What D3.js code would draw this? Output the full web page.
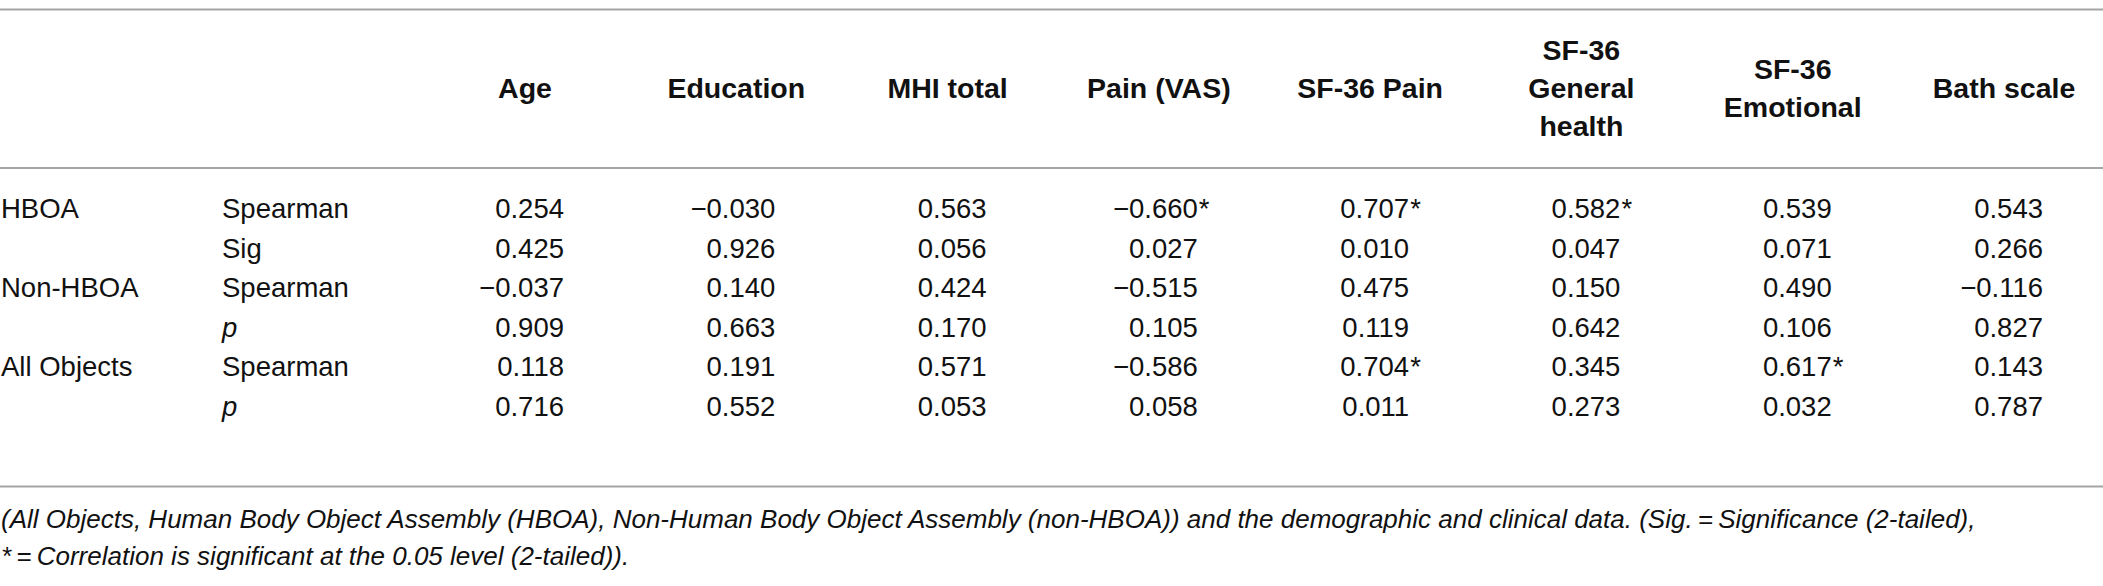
<!DOCTYPE html>
<html>
<head>
<meta charset="utf-8">
<script src="https://cdn.jsdelivr.net/npm/d3@7"></script>
<style>
  body { margin: 0; background: #fff; }
  text { font-family: "Liberation Sans", Arial, Helvetica, sans-serif; fill: #111; }
</style>
</head>
<body>
<div id="table-div"></div>
<script>
// table content
var columns = ["Age", "Education", "MHI total", "Pain (VAS)", "SF-36 Pain",
               "SF-36\nGeneral\nhealth", "SF-36\nEmotional", "Bath scale"]
var groups = ["HBOA", "", "Non-HBOA", "", "All Objects", ""]
var stats = ["Spearman", "Sig", "Spearman", "p", "Spearman", "p"]
var hboaRho   = ["0.254", "−0.030", "0.563", "−0.660*", "0.707*", "0.582*", "0.539", "0.543"]
var hboaSig   = ["0.425", "0.926", "0.056", "0.027", "0.010", "0.047", "0.071", "0.266"]
var nonRho    = ["−0.037", "0.140", "0.424", "−0.515", "0.475", "0.150", "0.490", "−0.116"]
var nonP      = ["0.909", "0.663", "0.170", "0.105", "0.119", "0.642", "0.106", "0.827"]
var allRho    = ["0.118", "0.191", "0.571", "−0.586", "0.704*", "0.345", "0.617*", "0.143"]
var allP      = ["0.716", "0.552", "0.053", "0.058", "0.011", "0.273", "0.032", "0.787"]
var footnote = [
  "(All Objects, Human Body Object Assembly (HBOA), Non-Human Body Object Assembly (non-HBOA)) and the demographic and clinical data. (Sig.\u2009=\u2009Significance (2-tailed),",
  "*\u2009=\u2009Correlation is significant at the 0.05 level (2-tailed))."
]

var rows = [hboaRho, hboaSig, nonRho, nonP, allRho, allP]

var width = 2103, height = 586

var svg = d3.select("#table-div")
  .append("svg")
  .attr("width", width)
  .attr("height", height)

var x = d3.scalePoint()
  .domain(columns)
  .range([525, 2004])

var y = d3.scalePoint()
  .domain(d3.range(rows.length))
  .range([218, 416])

var valueShift = 39   // numbers sit right of the header centre
var headLine = 38

// rules
var rules = [9.5, 168, 486.5]
svg.selectAll(".rule")
  .data(rules)
  .enter()
  .append("line")
    .attr("class", "rule")
    .attr("x1", 0)
    .attr("x2", width)
    .attr("y1", d => d)
    .attr("y2", d => d)
    .attr("stroke", "#a5a5a5")
    .attr("stroke-width", 2)

// header
var head = svg.append("g")
columns.forEach(function(c) {
  var parts = c.split("\n")
  parts.forEach(function(p, i) {
    head.append("text")
      .attr("x", x(c))
      .attr("y", 98 + (i - (parts.length - 1) / 2) * headLine)
      .attr("text-anchor", "middle")
      .style("font-weight", "bold")
      .style("font-size", "28.5px")
      .text(p)
  })
})

// row labels
var body = svg.append("g").style("font-size", "27.5px")
body.selectAll(".grp")
  .data(groups)
  .enter()
  .append("text")
    .attr("class", "grp")
    .attr("x", 1)
    .attr("y", (d, i) => y(i))
    .text(d => d)

body.selectAll(".stat")
  .data(stats)
  .enter()
  .append("text")
    .attr("class", "stat")
    .attr("x", 222)
    .attr("y", (d, i) => y(i))
    .style("font-style", d => d == "p" ? "italic" : "normal")
    .text(d => d)

// values
rows.forEach(function(r, i) {
  r.forEach(function(v, j) {
    var star = v.endsWith("*")
    var num = star ? v.slice(0, -1) : v
    var xr = x(columns[j]) + valueShift
    body.append("text")
      .attr("x", xr)
      .attr("y", y(i))
      .attr("text-anchor", "end")
      .text(num)
    if (star) {
      body.append("text")
        .attr("x", xr + 1)
        .attr("y", y(i))
        .text("*")
    }
  })
})

// footnote
svg.selectAll(".note")
  .data(footnote)
  .enter()
  .append("text")
    .attr("class", "note")
    .attr("x", 1)
    .attr("y", (d, i) => 528 + i * 37)
    .style("font-style", "italic")
    .style("font-size", "26px")
    .text(d => d)
</script>
</body>
</html>
